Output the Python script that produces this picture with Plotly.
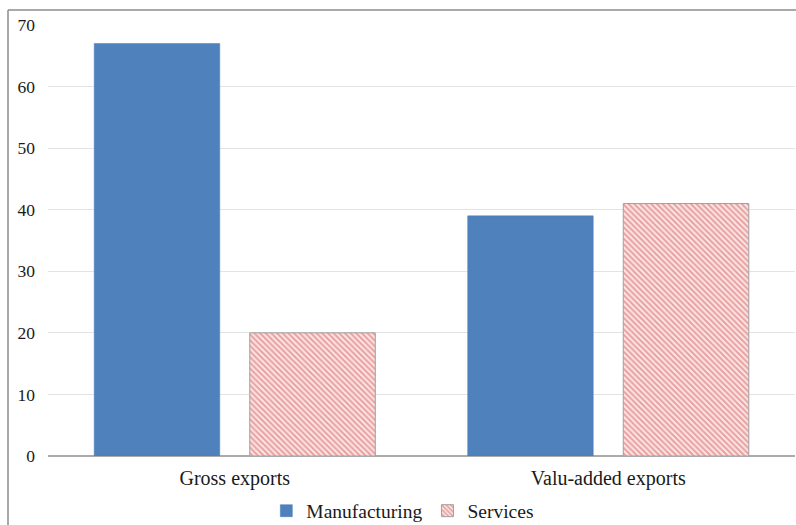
import plotly.graph_objects as go

categories = ["Gross exports", "Valu-added exports"]
manufacturing = [67, 39]
services = [20, 41]
y_ticks = [0, 10, 20, 30, 40, 50, 60, 70]

FONT = "Times New Roman"

fig = go.Figure()
fig.add_trace(go.Bar(
    name="Manufacturing", x=categories, y=manufacturing,
    marker=dict(color="#4F81BD", line=dict(color="#4A7AB3", width=0.5)),
))
fig.add_trace(go.Bar(
    name="Services", x=categories, y=services,
    marker=dict(color="white", line=dict(color="#A0A0A0", width=1),
                pattern=dict(shape="\\", fgcolor="#D65A57", bgcolor="#FBE6E6",
                             size=4, solidity=0.5)),
))

fig.update_layout(
    width=796, height=525,
    margin=dict(l=48, r=1, t=25, b=69, autoexpand=False),
    paper_bgcolor="white", plot_bgcolor="white",
    barmode="group", bargap=0.167, bargroupgap=0.193,
    font=dict(family=FONT, size=17, color="#1a1a1a"),
    showlegend=True,
    legend=dict(orientation="h", x=0.475, xanchor="center",
                yref="container", y=(525 - 511) / 525, yanchor="middle",
                font=dict(family=FONT, size=19.5), itemwidth=30, tracegroupgap=0,
                bgcolor="rgba(0,0,0,0)"),
    xaxis=dict(showgrid=False, showline=False, ticks="", tickfont=dict(family=FONT, size=20),
               automargin=False, ticklabelstandoff=8),
    yaxis=dict(range=[0, 70], tickvals=y_ticks, showgrid=True, gridcolor="#E3E3E3",
               gridwidth=1, zeroline=True, zerolinecolor="#ABABAB", zerolinewidth=1.5,
               showline=False, ticks="", ticklabelstandoff=12, automargin=False,
               tickfont=dict(family=FONT, size=17.5)),
    shapes=[
        dict(type="line", xref="paper", yref="paper", x0=(8-48)/747, x1=1.01,
             y0=1+(25-10)/431, y1=1+(25-10)/431, line=dict(color="#8C8C8C", width=1.5)),
        dict(type="line", xref="paper", yref="paper", x0=(8-48)/747, x1=(8-48)/747,
             y0=1+(25-10)/431, y1=-0.17, line=dict(color="#8C8C8C", width=1.5)),
    ],
)

fig.write_html("out.html")
